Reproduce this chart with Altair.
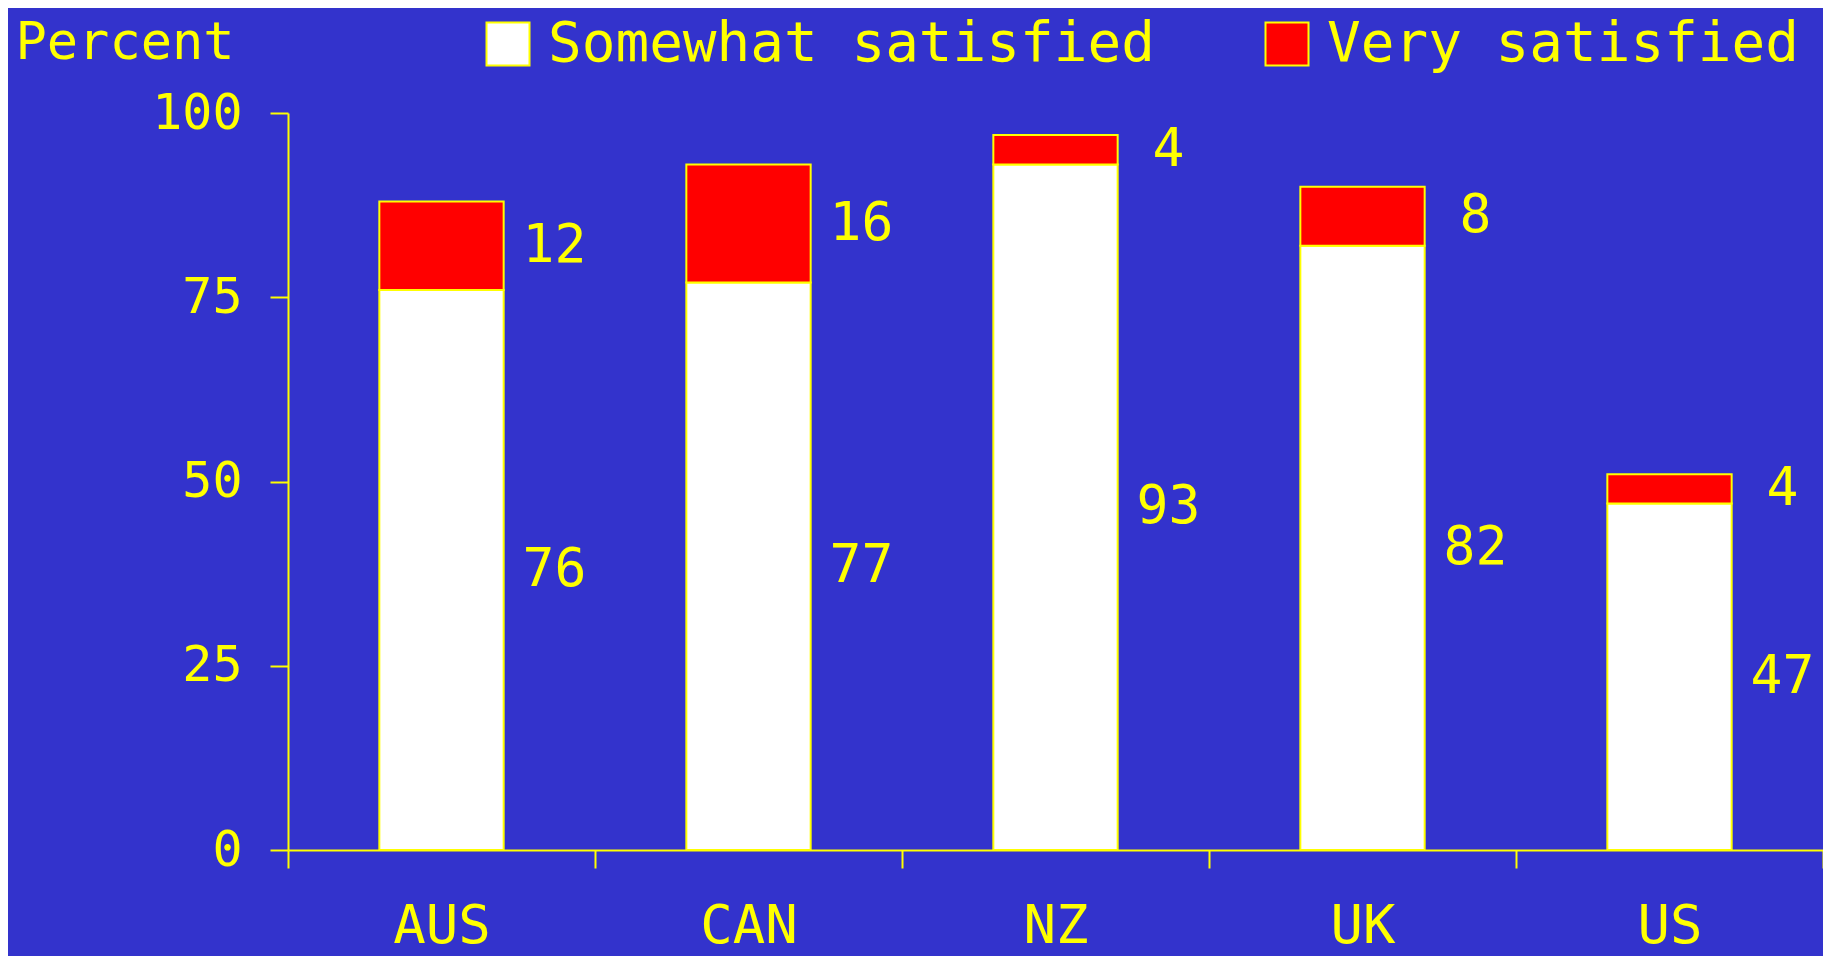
import altair as alt
import pandas as pd

# ---- data ----
countries = ["AUS", "CAN", "NZ", "UK", "US"]
somewhat = [76, 77, 93, 82, 47]
very = [12, 16, 4, 8, 4]
series = ["Somewhat satisfied", "Very satisfied"]
y_ticks = [0, 25, 50, 75, 100]

rows = []
for c, s, v in zip(countries, somewhat, very):
    rows.append({"country": c, "level": series[0], "value": s, "rank": 0})
    rows.append({"country": c, "level": series[1], "value": v, "rank": 1})
df = pd.DataFrame(rows)

BG = "#3333cc"
YEL = "#ffff00"
FONT = "DejaVu Sans Mono"

x_enc = alt.X(
    "country:N",
    sort=countries,
    scale=alt.Scale(paddingInner=0, paddingOuter=0),
    axis=alt.Axis(
        title=None,
        tickBand="extent",
        labelAngle=0,
        labelFontSize=54,
        labelPadding=31,
        tickSize=18,
    ),
)

y_axis = alt.Axis(
    values=y_ticks,
    title="Percent",
    titleAngle=0,
    titleAlign="left",
    titleBaseline="alphabetic",
    titleX=-273,
    titleY=-55,
    titleFontSize=52,
    labelFontSize=50,
    labelPadding=28,
    tickSize=18,
)
y_scale = alt.Scale(domain=[0, 100], nice=False)

bars = alt.Chart(df).mark_bar(
    width=alt.RelativeBandSize(0.405), stroke=YEL, strokeWidth=2, opacity=1
).encode(
    x=x_enc,
    y=alt.Y("value:Q", stack="zero", scale=y_scale, axis=y_axis),
    color=alt.Color(
        "level:N",
        scale=alt.Scale(domain=series, range=["#ffffff", "#ff0000"]),
        legend=alt.Legend(
            orient="none",
            legendX=192,
            legendY=-97,
            direction="horizontal",
            title=None,
            symbolType="square",
            symbolSize=1849,
            symbolStrokeColor=YEL,
            symbolStrokeWidth=2,
            symbolOpacity=1,
            labelFontSize=56,
            labelFont=FONT,
            labelColor=YEL,
            labelOffset=12,
            columnPadding=104,
            labelLimit=2000,
        ),
    ),
    order=alt.Order("rank:Q"),
)

labels = (
    alt.Chart(df)
    .transform_stack(
        stack="value",
        groupby=["country"],
        as_=["v0", "v1"],
        sort=[alt.SortField("rank", order="ascending")],
    )
    .transform_calculate(mid="(datum.v0 + datum.v1) / 2")
    .mark_text(dx=113, align="center", baseline="middle", fontSize=53, font=FONT, color=YEL)
    .encode(
        x=x_enc,
        y=alt.Y("mid:Q", scale=y_scale, axis=y_axis),
        text=alt.Text("value:Q"),
    )
)

chart = (
    alt.layer(bars, labels)
    .properties(
        width=1535,
        height=737,
        background=BG,
        autosize=alt.AutoSizeParams(type="none"),
        padding={"left": 280, "top": 105, "right": 0, "bottom": 106},
    )
    .configure_view(stroke=None)
    .configure_axis(
        domainColor=YEL,
        domainWidth=2,
        tickColor=YEL,
        tickWidth=2,
        labelColor=YEL,
        titleColor=YEL,
        labelFont=FONT,
        titleFont=FONT,
        titleFontWeight="normal",
        grid=False,
    )
)

chart.save("out.html", embed_options={"renderer": "svg", "actions": False})
